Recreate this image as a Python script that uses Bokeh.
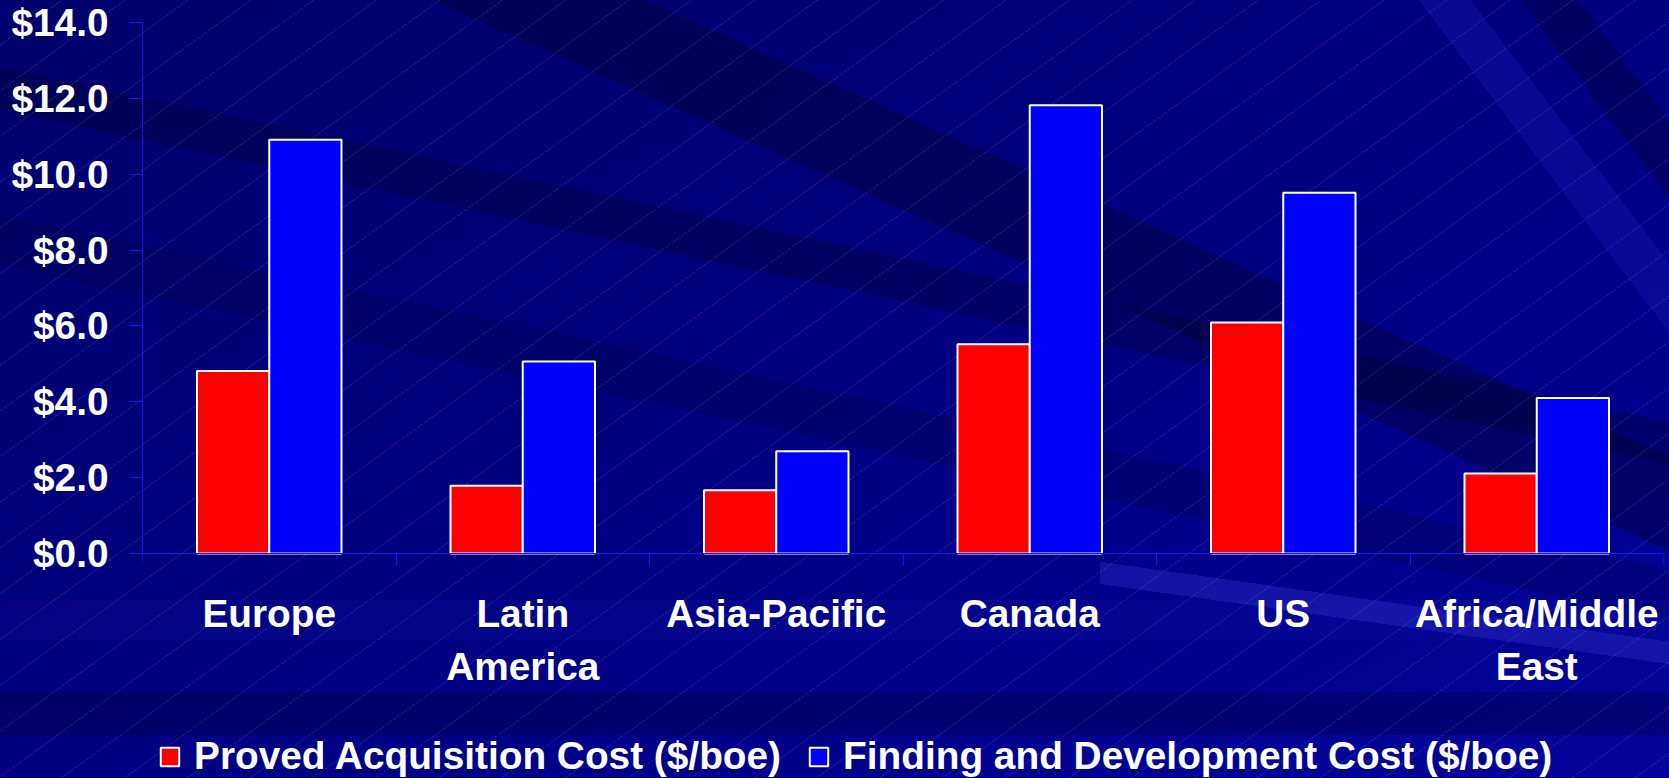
from bokeh.plotting import figure
from bokeh.models import (ColumnDataSource, Range1d, FixedTicker, LinearAxis,
                          NumeralTickFormatter, Legend, LegendItem)
from bokeh.transform import dodge
from bokeh.embed import file_html
from bokeh.resources import INLINE

# ---- data -------------------------------------------------------------
regions = ["Europe", "Latin\nAmerica", "Asia-Pacific", "Canada", "US",
           "Africa/Middle\nEast"]
acquisition_cost = [4.81, 1.79, 1.67, 5.52, 6.09, 2.11]
finding_dev_cost = [10.91, 5.06, 2.70, 11.82, 9.51, 4.10]
y_ticks = [0, 2, 4, 6, 8, 10, 12, 14]
series_labels = ["Proved Acquisition Cost ($/boe)",
                 "Finding and Development Cost ($/boe)"]

RED = "#FF0000"
BLUE = "#0000FF"
AXIS_BLUE = "#1414FF"
FONT = "Liberation Sans"
FONT_SIZE = "38.8px"
BAR_W = 0.285
Y_MAX = 14
# the frame runs down to the page bottom so the legend can sit under the
# category names; the value axis itself stops at zero
Y_MIN = -5.93

n = len(regions)
centers = [i + 0.5 for i in range(n)]
boundaries = list(range(n + 1))

src = ColumnDataSource(dict(center=centers, acq=acquisition_cost,
                            fdc=finding_dev_cost))

p = figure(width=1669, height=778, output_backend="svg", toolbar_location=None,
           x_range=Range1d(0, n), y_range=Range1d(Y_MIN, Y_MAX),
           x_axis_type=None, y_axis_type=None,
           min_border_left=142, min_border_right=6, min_border_top=22,
           min_border_bottom=0)
p.grid.visible = False
p.outline_line_color = None
p.background_fill_color = None
p.border_fill_color = None

# slide-style backdrop: navy sweep with darker bands and fine hairlines
layers = [
    ("repeating-linear-gradient(144deg, rgba(160,170,255,0) 0px, rgba(160,170,255,0) 36px,"
     " rgba(160,170,255,0.12) 36px, rgba(160,170,255,0.12) 37px)", "0 0", "100% 100%"),
    ("linear-gradient(8deg, rgba(0,0,0,0) 61%, rgba(40,40,195,0.45) 61%,"
     " rgba(40,40,195,0.45) 68%, rgba(0,0,0,0) 68%)", "1100px 540px", "569px 238px"),
    ("linear-gradient(180deg, rgba(0,0,0,0) 692px, rgba(0,0,50,0.3) 692px,"
     " rgba(0,0,50,0.3) 735px, rgba(0,0,0,0) 735px)", "0 0", "100% 100%"),
    ("linear-gradient(180deg, rgba(0,0,0,0) 600px, rgba(30,30,180,0.12) 600px,"
     " rgba(30,30,180,0.12) 640px, rgba(0,0,0,0) 640px)", "0 0", "100% 100%"),
    ("linear-gradient(53deg, rgba(0,0,0,0) 88.9%, rgba(30,30,190,0.3) 88.9%,"
     " rgba(30,30,190,0.3) 91.2%, rgba(0,0,0,0) 91.2%, rgba(0,0,0,0) 93.4%,"
     " rgba(0,0,40,0.35) 93.4%, rgba(0,0,40,0.35) 96%, rgba(0,0,0,0) 96%)", "0 0", "100% 100%"),
    ("linear-gradient(24deg, rgba(0,0,0,0) 63.8%, rgba(0,0,40,0.38) 63.8%,"
     " rgba(0,0,40,0.38) 70%, rgba(0,0,0,0) 70%)", "0 0", "100% 100%"),
    ("linear-gradient(12deg, rgba(0,0,0,0) 45.3%, rgba(0,0,40,0.2) 45.3%,"
     " rgba(0,0,40,0.2) 49.7%, rgba(0,0,0,0) 49.7%, rgba(0,0,0,0) 59%,"
     " rgba(0,0,40,0.32) 59%, rgba(0,0,40,0.32) 62.8%, rgba(0,0,0,0) 62.8%)", "0 0", "100% 100%"),
    ("linear-gradient(155deg, #00006c 0%, #00007c 40%, #00008a 70%, #04049c 100%)",
     "0 0", "100% 100%"),
]
p.styles = {
    "background-image": ", ".join(l[0] for l in layers),
    "background-position": ", ".join(l[1] for l in layers),
    "background-size": ", ".join(l[2] for l in layers),
    "background-repeat": "no-repeat",
}

# ---- bars -------------------------------------------------------------
r_acq = p.vbar(x=dodge("center", -BAR_W / 2), top="acq", width=BAR_W, source=src,
               fill_color=RED, line_color="white", line_width=2)
r_fdc = p.vbar(x=dodge("center", BAR_W / 2), top="fdc", width=BAR_W, source=src,
               fill_color=BLUE, line_color="white", line_width=2)

# ---- axes -------------------------------------------------------------
def style_labels(ax):
    ax.major_label_text_color = "white"
    ax.major_label_text_font = FONT
    ax.major_label_text_font_style = "bold"
    ax.major_label_text_font_size = FONT_SIZE

def no_minor(ax):
    ax.minor_tick_out = 0
    ax.minor_tick_in = 0

yax = LinearAxis(ticker=FixedTicker(ticks=y_ticks, minor_ticks=[]),
                 formatter=NumeralTickFormatter(format="$0.0"),
                 bounds=(0, Y_MAX))
yax.axis_line_color = AXIS_BLUE
yax.major_tick_line_color = AXIS_BLUE
yax.major_tick_out = 13
yax.major_tick_in = 0
yax.major_label_standoff = 21
no_minor(yax)
style_labels(yax)
p.add_layout(yax, "left")

# baseline with category boundary ticks
xtick = LinearAxis(ticker=FixedTicker(ticks=boundaries, minor_ticks=[]),
                   major_label_overrides={b: "" for b in boundaries},
                   fixed_location=0)
xtick.axis_line_color = AXIS_BLUE
xtick.major_tick_line_color = AXIS_BLUE
xtick.major_tick_out = 12
xtick.major_tick_in = 0
xtick.major_label_standoff = 0
xtick.major_label_text_font_size = "0px"
no_minor(xtick)
p.add_layout(xtick, "below")

# region names centred under each group
xlab = LinearAxis(ticker=FixedTicker(ticks=centers, minor_ticks=[]),
                  major_label_overrides={c: r for c, r in zip(centers, regions)},
                  fixed_location=0)
xlab.axis_line_color = None
xlab.major_tick_line_color = None
xlab.major_tick_out = 0
xlab.major_tick_in = 0
xlab.major_label_standoff = 38
xlab.major_label_text_line_height = 1.24
no_minor(xlab)
style_labels(xlab)
p.add_layout(xlab, "below")

# ---- legend (under the category names) ---------------------------------
legend = Legend(items=[LegendItem(label=series_labels[0], renderers=[r_acq]),
                       LegendItem(label=series_labels[1], renderers=[r_fdc])],
                orientation="horizontal", location=(16, 0),
                glyph_width=23, glyph_height=23, label_standoff=13, spacing=26,
                padding=0, margin=0, border_line_color=None,
                background_fill_alpha=0, label_text_color="white",
                label_text_font=FONT, label_text_font_style="bold",
                label_text_font_size=FONT_SIZE)
p.add_layout(legend, "center")

open("out.html", "w").write(file_html(p, INLINE))
